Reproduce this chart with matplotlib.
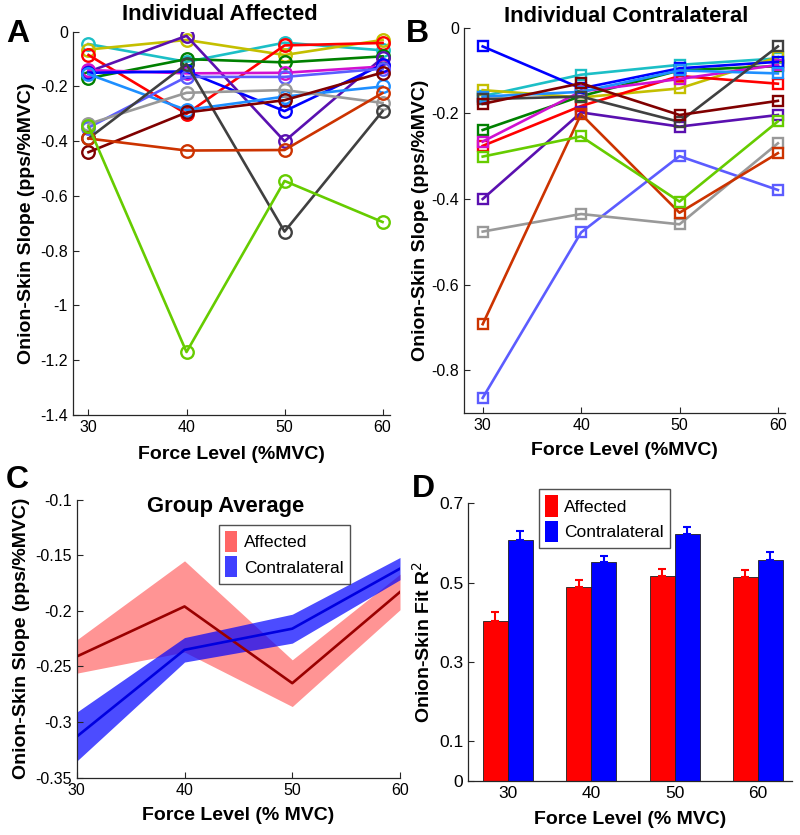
import numpy as np
import matplotlib
matplotlib.use('Agg')
import matplotlib.pyplot as plt
from matplotlib.patches import Patch

plt.rcParams['font.family'] = ['Liberation Sans', 'DejaVu Sans']

force = [30, 40, 50, 60]
force_labels = ['30', '40', '50', '60']

# one colour per subject, same order in A and B
subj_colors = ['#1cbfc6', '#c4bf00', '#ff0000', '#008000', '#5a10b0', '#d010d0', '#0000ff',
               '#1e8fff', '#5c5cff', '#999999', '#404040', '#800000', '#cc3300', '#66cc00']

affected = [
    [-0.045, -0.11, -0.04, -0.068],
    [-0.065, -0.03, -0.085, -0.03],
    [-0.085, -0.30, -0.05, -0.041],
    [-0.17, -0.10, -0.112, -0.09],
    [-0.146, -0.015, -0.40, -0.095],
    [-0.14, -0.152, -0.15, -0.127],
    [-0.15, -0.145, -0.29, -0.12],
    [-0.155, -0.286, -0.237, -0.20],
    [-0.35, -0.165, -0.165, -0.135],
    [-0.337, -0.223, -0.213, -0.26],
    [-0.39, -0.118, -0.73, -0.29],
    [-0.44, -0.295, -0.25, -0.149],
    [-0.39, -0.434, -0.432, -0.224],
    [-0.345, -1.17, -0.545, -0.695],
]

contra = [
    [-0.16, -0.11, -0.087, -0.072],
    [-0.146, -0.163, -0.142, -0.069],
    [-0.276, -0.183, -0.113, -0.131],
    [-0.239, -0.16, -0.10, -0.09],
    [-0.40, -0.198, -0.231, -0.204],
    [-0.266, -0.149, -0.12, -0.087],
    [-0.044, -0.142, -0.095, -0.08],
    [-0.161, -0.15, -0.10, -0.107],
    [-0.864, -0.478, -0.30, -0.379],
    [-0.476, -0.435, -0.459, -0.27],
    [-0.167, -0.161, -0.22, -0.044],
    [-0.178, -0.13, -0.204, -0.171],
    [-0.692, -0.202, -0.432, -0.293],
    [-0.301, -0.254, -0.406, -0.219],
]

# group average slopes (mean +/- sem)
aff_mean = [-0.241, -0.196, -0.265, -0.183]
aff_sem = [0.015, 0.041, 0.021, 0.016]
con_mean = [-0.313, -0.235, -0.216, -0.162]
con_sem = [0.022, 0.011, 0.013, 0.010]

# onion-skin fit R^2
aff_r2 = [0.404, 0.49, 0.517, 0.515]
aff_r2_err = [0.023, 0.017, 0.017, 0.017]
con_r2 = [0.608, 0.552, 0.623, 0.557]
con_r2_err = [0.022, 0.015, 0.017, 0.019]

axcol = '#262626'
tick_fs = 11.5
lab_fs = 14
title_fs = 15.8


def style(ax):
    for s in ['top', 'right']:
        ax.spines[s].set_visible(False)
    for s in ['left', 'bottom']:
        ax.spines[s].set_color(axcol)
        ax.spines[s].set_linewidth(0.9)
    ax.tick_params(direction='in', length=4, width=0.8, color=axcol, labelsize=tick_fs)


fig = plt.figure(figsize=(8, 8.35), dpi=100)

# ---- A
axA = fig.add_axes([0.091, 0.503, 0.397, 0.459])
for c, ys in zip(subj_colors, affected):
    axA.plot(force, ys, '-o', color=c, lw=1.9, ms=9, mfc='none', mew=1.7)
axA.set_xlim(28.4, 60.8)
axA.set_ylim(-1.4, 0)
axA.set_xticks(force)
axA.set_yticks(np.arange(-1.4, 0.01, 0.2))
axA.set_yticklabels(['-1.4', '-1.2', '-1', '-0.8', '-0.6', '-0.4', '-0.2', '0'])
style(axA)
axA.set_xlabel('Force Level (%MVC)', fontsize=lab_fs, fontweight='bold', labelpad=8)
axA.set_ylabel('Onion-Skin Slope (pps/%MVC)', fontsize=lab_fs, fontweight='bold', labelpad=4)
fig.text(220 / 800, 1 - 15 / 835, 'Individual Affected', ha='center', va='center',
         fontsize=title_fs, fontweight='bold')
fig.text(18 / 800, 1 - 34 / 835, 'A', ha='center', va='center', fontsize=23, fontweight='bold')

# ---- B
axB = fig.add_axes([0.58, 0.505, 0.401, 0.462])
for c, ys in zip(subj_colors, contra):
    axB.plot(force, ys, '-s', color=c, lw=1.9, ms=7, mfc='none', mew=1.7)
axB.set_xlim(28.1, 60.7)
axB.set_ylim(-0.9, 0)
axB.set_xticks(force)
axB.set_yticks([-0.8, -0.6, -0.4, -0.2, 0])
axB.set_yticklabels(['-0.8', '-0.6', '-0.4', '-0.2', '0'])
style(axB)
axB.set_xlabel('Force Level (%MVC)', fontsize=lab_fs, fontweight='bold', labelpad=6)
axB.set_ylabel('Onion-Skin Slope (pps/%MVC)', fontsize=lab_fs, fontweight='bold', labelpad=2)
fig.text(626 / 800, 1 - 17 / 835, 'Individual Contralateral', ha='center', va='center',
         fontsize=title_fs, fontweight='bold')
fig.text(417 / 800, 1 - 34 / 835, 'B', ha='center', va='center', fontsize=23, fontweight='bold')

# ---- C
axC = fig.add_axes([0.096, 0.0686, 0.404, 0.333])
am, asem = np.array(aff_mean), np.array(aff_sem)
cm, csem = np.array(con_mean), np.array(con_sem)
axC.fill_between(force, am - asem, am + asem, color='#ff0000', alpha=0.42, lw=0)
axC.fill_between(force, cm - csem, cm + csem, color='#0000ff', alpha=0.7, lw=0)
axC.plot(force, am, color='#9a0000', lw=1.9)
axC.plot(force, cm, color='#0000e0', lw=1.9)
axC.set_xlim(30, 60)
axC.set_ylim(-0.35, -0.1)
axC.set_xticks(force)
axC.set_yticks([-0.35, -0.3, -0.25, -0.2, -0.15, -0.1])
axC.set_yticklabels(['-0.35', '-0.3', '-0.25', '-0.2', '-0.15', '-0.1'])
style(axC)
axC.set_xlabel('Force Level (% MVC)', fontsize=lab_fs, fontweight='bold', labelpad=7)
axC.set_ylabel('Onion-Skin Slope (pps/%MVC)', fontsize=lab_fs, fontweight='bold', labelpad=4)
axC.text(0.46, 0.975, 'Group Average', transform=axC.transAxes, ha='center', va='center',
         fontsize=title_fs, fontweight='bold')
legC = axC.legend(handles=[Patch(facecolor='#ff0000', alpha=0.6, label='Affected'),
                           Patch(facecolor='#0000ff', alpha=0.75, label='Contralateral')],
                  loc='upper left', bbox_to_anchor=(0.44, 0.91), fontsize=12.5, fancybox=False,
                  handlelength=0.7, handleheight=1.5, handletextpad=0.4, borderpad=0.35,
                  labelspacing=0.25, borderaxespad=0)
legC.get_frame().set_edgecolor(axcol)
legC.get_frame().set_linewidth(1.0)
fig.text(17 / 800, 1 - 480 / 835, 'C', ha='center', va='center', fontsize=23, fontweight='bold')

# ---- D
axD = fig.add_axes([0.585, 0.0647, 0.405, 0.3326])
pos = np.arange(1, 5)
w = 0.3
axD.bar(pos - w / 2, aff_r2, w, color='#ff0000', edgecolor='#202020', lw=0.6)
axD.bar(pos + w / 2, con_r2, w, color='#0000ff', edgecolor='#202020', lw=0.6)
axD.errorbar(pos - w / 2, aff_r2, yerr=[np.zeros(4), aff_r2_err], fmt='none',
             ecolor='#ff0000', elinewidth=1.5, capsize=3, capthick=1.5)
axD.errorbar(pos + w / 2, con_r2, yerr=[np.zeros(4), con_r2_err], fmt='none',
             ecolor='#0000ff', elinewidth=1.5, capsize=3, capthick=1.5)
axD.set_xlim(0.52, 4.41)
axD.set_ylim(0, 0.7)
axD.set_xticks(pos)
axD.set_xticklabels(force_labels)
axD.set_yticks([0, 0.1, 0.3, 0.5, 0.7])
axD.set_yticklabels(['0', '0.1', '0.3', '0.5', '0.7'])
style(axD)
axD.tick_params(axis='both', labelsize=12.5)
axD.tick_params(axis='x', length=0)
axD.set_xlabel('Force Level (% MVC)', fontsize=lab_fs, fontweight='bold', labelpad=7)
axD.set_ylabel('Onion-Skin Fit R$^2$', fontsize=lab_fs, fontweight='bold', labelpad=4)
legD = axD.legend(handles=[Patch(facecolor='#ff0000', label='Affected'),
                           Patch(facecolor='#0000ff', label='Contralateral')],
                  loc='upper left', bbox_to_anchor=(0.22, 1.05), fontsize=12.5, fancybox=False,
                  handlelength=0.7, handleheight=1.5, handletextpad=0.4, borderpad=0.35,
                  labelspacing=0.25, borderaxespad=0)
legD.get_frame().set_edgecolor(axcol)
legD.get_frame().set_linewidth(1.0)
fig.text(423 / 800, 1 - 489 / 835, 'D', ha='center', va='center', fontsize=23, fontweight='bold')

fig.savefig('out.png', dpi=100)
